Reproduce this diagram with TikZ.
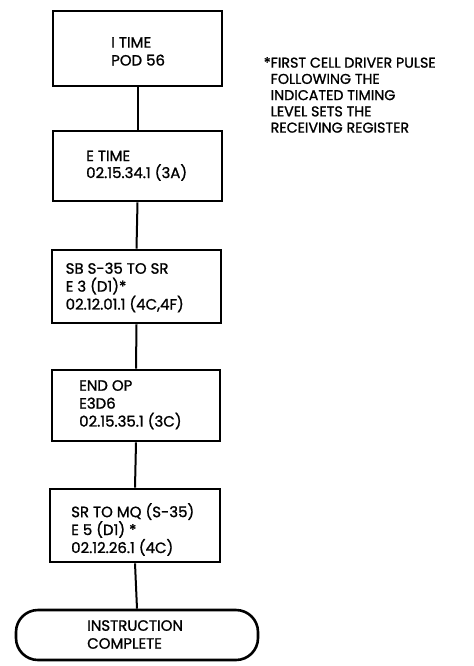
\documentclass[tikz,border=0pt]{standalone}
\usepackage{fontspec}
\setmainfont{Poppins}[FakeBold=1.2]
\begin{document}
\begin{tikzpicture}[x=1bp,y=-1bp,
  box/.style={draw, line width=2.6bp, minimum width=169bp, inner sep=0pt},
  wire/.style={line width=2bp},
  txt/.style={anchor=north west, inner sep=0pt, align=left,
    font=\fontsize{15}{18}\selectfont},
  term/.style={draw, line width=2.6bp, rounded corners=22bp,
    minimum width=242bp, minimum height=50bp, inner sep=0pt}]
\useasboundingbox (0,0) rectangle (474,666);

% process boxes
\node[box, minimum height=75bp] (b1) at (137.5,48.5) {};
\node[box, minimum height=70bp] (b2) at (137.5,166) {};
\node[box, minimum height=73bp, minimum width=169bp] (b3) at (136.5,286.5) {};
\node[box, minimum height=71bp, minimum width=168bp] (b4) at (136,405.5) {};
\node[box, minimum height=73bp, minimum width=170bp] (b5) at (135,525.5) {};
\node[term] (t) at (137,635) {};

% box texts
\node[txt] (l1) at (111,37) {I TIME\\POD 56};
\node[txt, font=\fontsize{15}{17}\selectfont] (l2) at (86,150.5) {E TIME\\02.15.34.1 (3A)};
\node[txt] (l3) at (65.5,262.5) {SB S-35 TO SR\\E 3 (D1)*\\02.12.01.1 (4C,4F)};
\node[txt] (l4) at (79,380) {END OP\\E3D6\\02.15.35.1 (3C)};
\node[txt] (l5) at (71,503) {SR TO MQ (S-35)\\E 5 (D1) *\\02.12.26.1 (4C)};
\node[txt] (l6) at (87,620) {INSTRUCTION\\COMPLETE};

% footnote
\node[txt, font=\fontsize{14.3}{16.3}\selectfont] (note) at (270.5,57) {\llap{*}FIRST CELL DRIVER PULSE\\FOLLOWING THE\\INDICATED TIMING\\LEVEL SETS THE\\RECEIVING REGISTER};

% connectors
\draw[wire] (b1.south) -- (b2.north);
\draw[wire] (b2.south) -- (b3.north);
\draw[wire] (b3.south) -- (b4.north);
\draw[wire] (b4.south) -- (b5.north);
\draw[wire] (b5.south) -- (t.north);
\end{tikzpicture}
\end{document}
